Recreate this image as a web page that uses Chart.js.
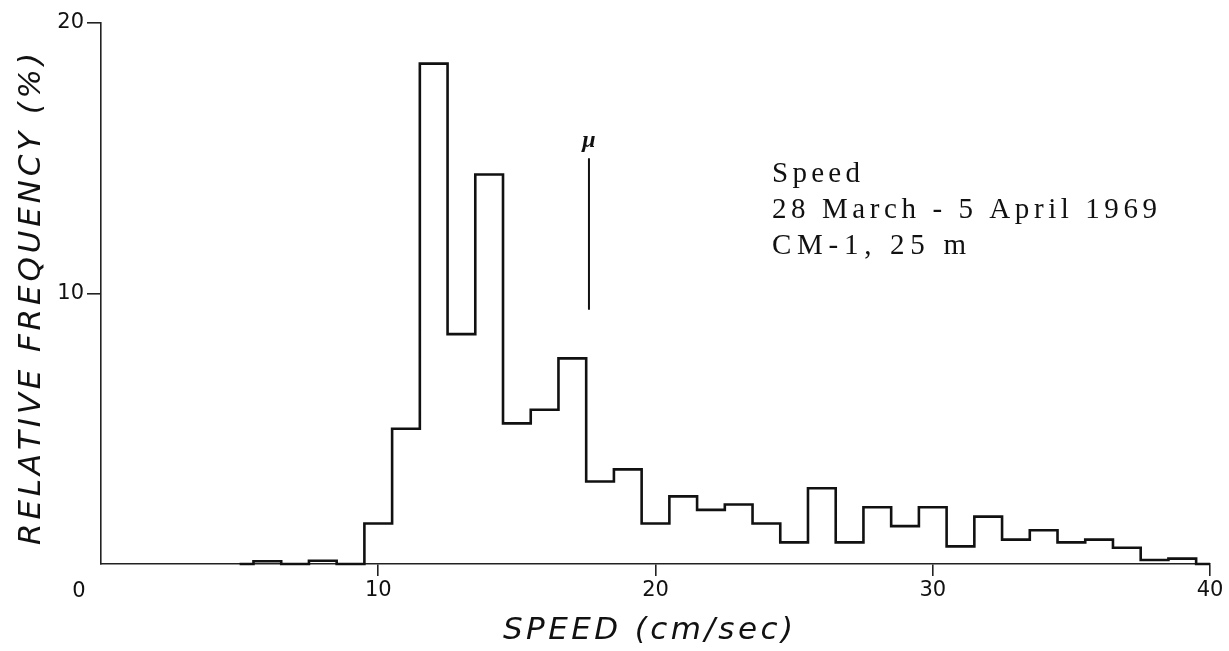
<!DOCTYPE html>
<html>
<head>
<meta charset="utf-8">
<title>Speed histogram, CM-1, 25 m</title>
<script src="https://cdn.jsdelivr.net/npm/chart.js@4/dist/chart.umd.min.js"></script>
<style>
  html, body { margin: 0; padding: 0; background: #ffffff; }
  #wrap { width: 1229px; height: 651px; }
</style>
</head>
<body>
<div id="wrap"><canvas id="hist" width="1229" height="651"></canvas></div>
<script>
// Speed class centres (cm/sec), 1 cm/sec wide classes
const speedBins = [5, 6, 7, 8, 9, 10, 11, 12, 13, 14, 15, 16, 17, 18, 19, 20, 21, 22,
                   23, 24, 25, 26, 27, 28, 29, 30, 31, 32, 33, 34, 35, 36, 37, 38, 39, 40];
// Relative frequency (%) in each class
const relFreq = [0, 0.1, 0, 0.12, 0, 1.5, 5.0, 18.5, 8.5, 14.4, 5.2, 5.7, 7.6, 3.05, 3.5, 1.5, 2.5, 2.0,
                 2.2, 1.5, 0.8, 2.8, 0.8, 2.1, 1.4, 2.1, 0.65, 1.75, 0.9, 1.25, 0.8, 0.9, 0.6, 0.15, 0.2, 0];
// Mean speed marker
const muSpeed = 17.6;
const muRange = [9.4, 15.0];
// Axis ticks
const xTickValues = [10, 20, 30, 40];
const yTickValues = [10, 20];
const originLabel = '0';
// Texts
const xTitle = 'SPEED (cm/sec)';
const yTitle = 'RELATIVE FREQUENCY (%)';
const infoLines = ['Speed', '28 March - 5 April 1969', 'CM-1, 25 m'];
const muLabel = 'μ';

const INK = '#111111';

// draw text one glyph at a time with extra tracking, spread to a given width
function trackedText(ctx, text, x, y, targetWidth, align) {
  const chars = Array.from(text);
  const widths = chars.map(c => ctx.measureText(c).width);
  const natural = widths.reduce((a, b) => a + b, 0);
  const gap = chars.length > 1 ? (targetWidth - natural) / (chars.length - 1) : 0;
  const total = natural + gap * (chars.length - 1);
  let cx = align === 'center' ? x - total / 2 : x;
  ctx.textAlign = 'left';
  chars.forEach((c, i) => {
    ctx.fillText(c, cx, y);
    cx += widths[i] + gap;
  });
}

const textPlugin = {
  id: 'histTexts',
  afterDraw(chart) {
    const ctx = chart.ctx;
    const xs = chart.scales.x, ys = chart.scales.y;
    ctx.save();
    ctx.fillStyle = INK;

    // origin label
    ctx.font = '21px "DejaVu Sans"';
    ctx.textAlign = 'center';
    ctx.textBaseline = 'middle';
    ctx.fillText(originLabel, 79, 592);

    // x axis title
    ctx.font = 'oblique 31px "DejaVu Sans"';
    ctx.textBaseline = 'alphabetic';
    trackedText(ctx, xTitle, 648, 639, 290, 'center');

    // y axis title, rotated
    ctx.save();
    ctx.translate(40, 299);
    ctx.rotate(-Math.PI / 2);
    ctx.font = 'oblique 31px "DejaVu Sans"';
    ctx.textBaseline = 'alphabetic';
    trackedText(ctx, yTitle, 0, 0, 492, 'center');
    ctx.restore();

    // mean marker label
    ctx.font = 'italic bold 24px "Liberation Serif"';
    ctx.textAlign = 'center';
    ctx.textBaseline = 'middle';
    ctx.fillText(muLabel, xs.getPixelForValue(muSpeed), ys.getPixelForValue(muRange[1]) - 17);

    // record description
    ctx.font = '29px "Liberation Serif"';
    ctx.textBaseline = 'alphabetic';
    const lineWidths = [88, 385, 194];
    infoLines.forEach((line, i) => {
      trackedText(ctx, line, 772, 182 + i * 36, lineWidths[i], 'left');
    });
    ctx.restore();
  }
};

const chart = new Chart(document.getElementById('hist'), {
  type: 'line',
  data: {
    datasets: [
      {
        label: 'Relative frequency',
        data: speedBins.map((s, i) => ({ x: s, y: relFreq[i] })),
        stepped: 'middle',
        borderColor: INK,
        borderWidth: 2.6,
        pointRadius: 0,
        fill: false,
        clip: false
      },
      {
        label: 'Mean',
        data: [{ x: muSpeed, y: muRange[0] }, { x: muSpeed, y: muRange[1] }],
        borderColor: INK,
        borderWidth: 2,
        pointRadius: 0,
        fill: false
      }
    ]
  },
  options: {
    responsive: false,
    animation: false,
    devicePixelRatio: 1,
    layout: { padding: { left: 0, top: 23, right: 19, bottom: 0 } },
    plugins: {
      legend: { display: false },
      tooltip: { enabled: false },
      title: { display: false }
    },
    scales: {
      x: {
        type: 'linear',
        min: 0,
        max: 40,
        afterBuildTicks: s => { s.ticks = xTickValues.map(v => ({ value: v })); },
        afterFit: s => { s.height = 87; },
        ticks: {
          color: INK,
          font: { family: 'DejaVu Sans', size: 21 },
          padding: 2,
          maxRotation: 0
        },
        grid: { drawOnChartArea: false, drawTicks: true, tickLength: 12, color: '#222222', lineWidth: 1.6 },
        border: { display: true, color: '#222222', width: 1.6 }
      },
      y: {
        type: 'linear',
        min: 0,
        max: 20,
        afterBuildTicks: s => { s.ticks = yTickValues.map(v => ({ value: v })); },
        afterFit: s => { s.width = 101; },
        ticks: {
          color: INK,
          font: { family: 'DejaVu Sans', size: 21 },
          padding: 3
        },
        grid: { drawOnChartArea: false, drawTicks: true, tickLength: 14, color: '#222222', lineWidth: 1.6 },
        border: { display: true, color: '#222222', width: 1.6 }
      }
    }
  },
  plugins: [textPlugin]
});
</script>
</body>
</html>
